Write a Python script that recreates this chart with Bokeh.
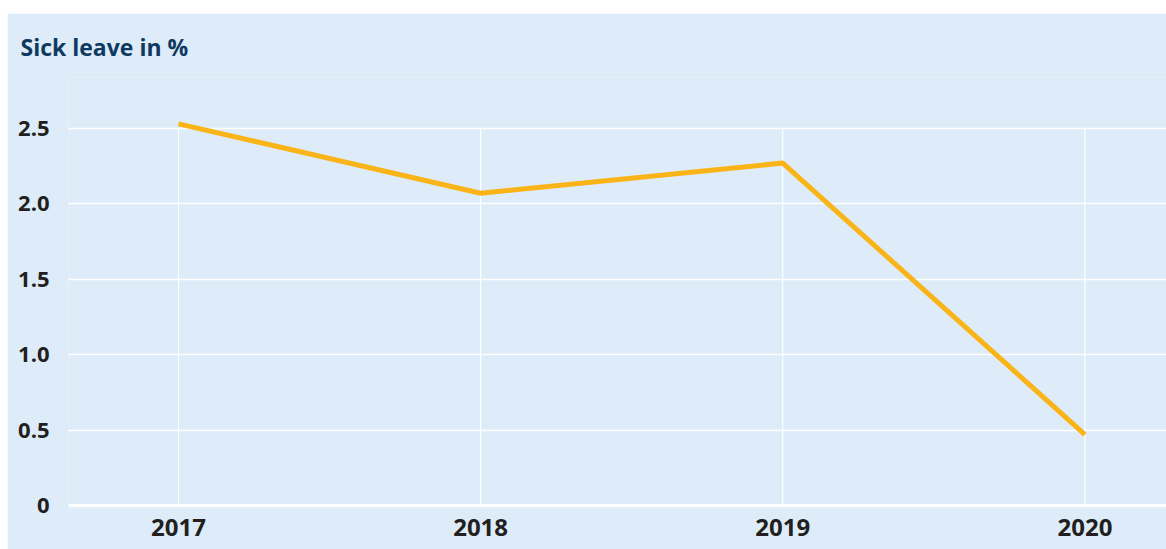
from bokeh.plotting import figure
from bokeh.models import Title, Span, FixedTicker, Spacer
from bokeh.layouts import column, row
from bokeh.embed import file_html
from bokeh.resources import INLINE

years = [2017, 2018, 2019, 2020]
sick_leave = [2.53, 2.07, 2.27, 0.47]
y_ticks = [0, 0.5, 1.0, 1.5, 2.0, 2.5]
y_tick_labels = ["0", "0.5", "1.0", "1.5", "2.0", "2.5"]
title_text = "Sick leave in %"

BG = "#ddecf8"
FONT = "Open Sans"

p = figure(width=1159, height=536, output_backend="svg", toolbar_location=None,
           x_range=(2016.636, 2020.27), y_range=(-0.0198, 2.837),
           min_border_left=61, min_border_right=0, min_border_top=63, min_border_bottom=41)
p.background_fill_color = BG
p.border_fill_color = BG
p.outline_line_color = None

t = Title(text=title_text, align="left", offset=-48, text_font=FONT, text_font_size="23px",
          text_font_style="bold", text_color="#0f3a5f", standoff=30)
p.add_layout(t, "above")

# vertical grid segments from 0 to top tick
p.xgrid.visible = False
p.segment(x0=years, y0=[0] * len(years), x1=years, y1=[max(y_ticks)] * len(years),
          line_color="white", line_width=1.2)

p.ygrid.ticker = FixedTicker(ticks=y_ticks[1:])
p.ygrid.grid_line_color = "white"
p.ygrid.grid_line_width = 1.6
p.add_layout(Span(location=0, dimension="width", line_color="white", line_width=3))

p.line(years, sick_leave, line_color="#fbb417", line_width=5)

p.xaxis.ticker = FixedTicker(ticks=years)
p.yaxis.ticker = FixedTicker(ticks=y_ticks)
p.yaxis.major_label_overrides = {v: s for v, s in zip(y_ticks, y_tick_labels)}
for ax in (p.xaxis[0], p.yaxis[0]):
    ax.axis_line_color = None
    ax.major_tick_line_color = None
    ax.minor_tick_line_color = None
    ax.major_label_text_font = FONT
    ax.major_label_text_font_style = "bold"
    ax.major_label_text_color = "#231f20"
p.xaxis.major_label_text_font_size = "24px"
p.yaxis.major_label_text_font_size = "22px"
p.xaxis.major_label_standoff = 4
p.yaxis.major_label_standoff = 13

layout = row(Spacer(width=7), column(Spacer(height=13), p, spacing=0), spacing=0)
open("out.html", "w").write(file_html(layout, INLINE))
